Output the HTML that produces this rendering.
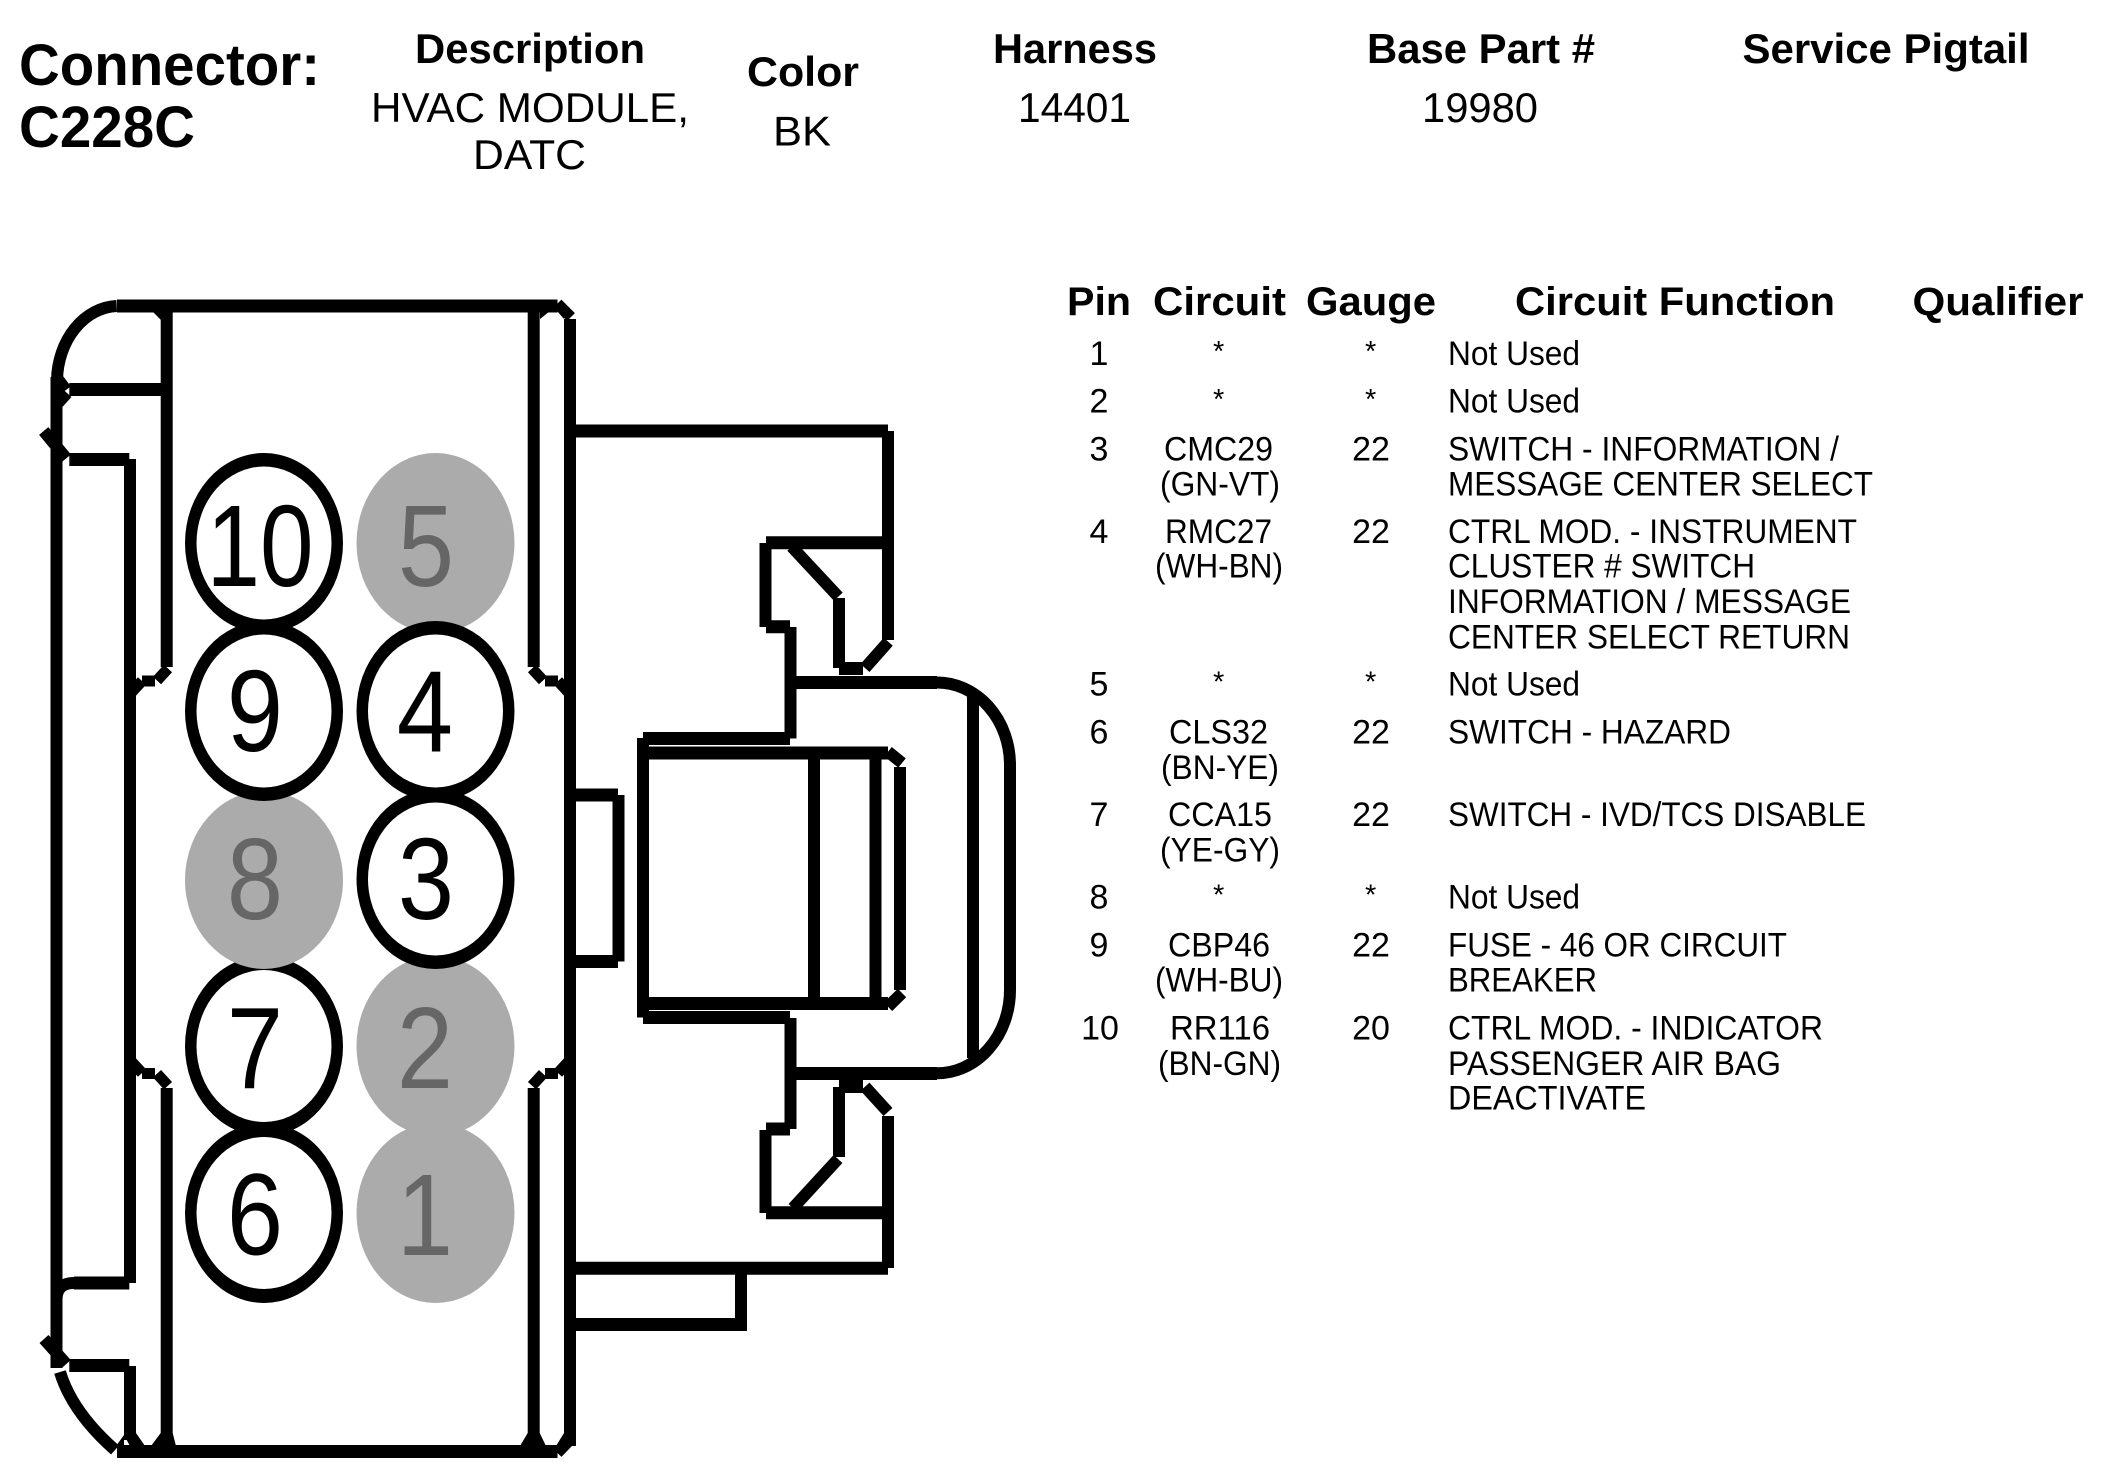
<!DOCTYPE html>
<html><head><meta charset="utf-8"><title>Connector C228C</title>
<style>
html,body{margin:0;padding:0;background:#fff}
svg{display:block}
text{font-family:"Liberation Sans",Arial,sans-serif;fill:#000}
.b{font-weight:bold}
.h{font-size:41.5px}
.t{font-size:39.5px}
.c{font-size:58px}
.r{font-size:34px}
.m{text-anchor:middle}
.s{font-size:29px;text-anchor:middle}
.d{font-size:116px;text-anchor:middle}
.g{fill:#666}
</style></head><body>
<svg width="2104" height="1484" viewBox="0 0 2104 1484" xmlns="http://www.w3.org/2000/svg">
<rect width="2104" height="1484" fill="#fff"/>

<g fill="none" stroke="#000">
<path stroke-width="13" d="M117 306H557.5M69.3 389.5H161M69.3 459.5H129.3M570 431H888M766 542.7H888M766 626.7H790M795 682.5H937M643 738.5H790M643 753H888M643 1003.5H888M643 1017.5H790M795 1073.5H937M839 1086.5H863M839 668.5H863M766 1129H790M766 1212.7H888M570 1268.3H888M570 1324.5H747M570 795H618M570 961.5H618M69.3 1365.5H129.3M117 1451.5H557.5M74 1283H129.3"/>
<path stroke-width="12" d="M56.5 377V1368M130 459V1283M130 1366V1440M166.7 306V667M166.7 1088V1440M533.7 306V667M533.7 1088V1440M570 319V1440M888 431V640M888 1116V1268M765.5 543V627M765.5 1130V1213M790.5 627V738.5M790.5 1018V1129M839 598V668M839 1087V1157M643 738V1017.5M814 753V1003M875.5 753V1003M900 767V990M973 690V1058M1010 765V990M618.5 795V961.5M741 1268V1331"/>
<path stroke-width="12" d="M116.7 306A62 76 0 0 0 57 380M56.5 1300Q56.5 1283 74 1283M57 378L66 390M67 393L58 403M43.7 431L66.3 458.3M44 1339L66.3 1364M60 1372Q72 1412 115 1450"/>
<path stroke-width="11" d="M557.5 303.5L571 317M557.5 1453L571 1439"/>
<path stroke-width="11" d="M168 668.5L157 680.5M155 681H142M142 681L130 694M532 668.5L543 680.5M545 681H558M558 681L570 694M168 1085.7L157 1073.7M155 1073.5H142M142 1073L130 1060M532 1085.7L543 1073.7M545 1073.5H558M558 1073L570 1060"/>
<path stroke-width="12" d="M791.7 546.7L838.3 596.7M865 668L888.3 641.7M793 1208L838 1159M865 1086.7L888 1112M888 751.7L902 763M902 993L888 1006.7"/>
<path stroke-width="12" d="M936.7 682.5A73 82.5 0 0 1 1010 765M1010 990A73 83.3 0 0 1 936.7 1073.3"/>
</g>
<path fill="#000" d="M136 1433L145 1446H124V1433ZM160.7 1433L151 1446H176L172.7 1433ZM124 1435L116 1446H130ZM527.7 1433L520 1446H546L539.7 1433ZM564 1433L556 1446H576V1433ZM153 312L161 320V312ZM540 319L550 311H540ZM557 311L564 319V311Z"/>

<g>
<ellipse cx="264" cy="1213" rx="79" ry="90" fill="#000"/><ellipse cx="264" cy="1213" rx="67.5" ry="76" fill="#fff"/>
<ellipse cx="264" cy="1046" rx="79" ry="90" fill="#000"/><ellipse cx="264" cy="1046" rx="67.5" ry="76" fill="#fff"/>
<ellipse cx="264" cy="880" rx="79" ry="89" fill="#ababab"/>
<ellipse cx="264" cy="543" rx="79" ry="90" fill="#000"/><ellipse cx="264" cy="543" rx="67.5" ry="76.5" fill="#fff"/>
<ellipse cx="264" cy="711" rx="79" ry="90" fill="#000"/><ellipse cx="264" cy="711" rx="67.5" ry="76.5" fill="#fff"/>
<ellipse cx="435.5" cy="1213" rx="79" ry="90" fill="#ababab"/>
<ellipse cx="435.5" cy="1046" rx="79" ry="90" fill="#ababab"/>
<ellipse cx="435.5" cy="543" rx="79" ry="90" fill="#ababab"/>
<ellipse cx="435.5" cy="879" rx="79" ry="90" fill="#000"/><ellipse cx="435.5" cy="879" rx="67.5" ry="76.5" fill="#fff"/>
<ellipse cx="435.5" cy="711" rx="79" ry="90" fill="#000"/><ellipse cx="435.5" cy="711" rx="67.5" ry="76.5" fill="#fff"/>
</g>

<text class="d" transform="translate(260 586) scale(.83 1)">10</text>
<text class="d" transform="translate(255 751) scale(.87 1)">9</text>
<text class="d g" transform="translate(255 919) scale(.87 1)">8</text>
<text class="d" transform="translate(255 1088) scale(.87 1)">7</text>
<text class="d" transform="translate(255 1254.5) scale(.87 1)">6</text>
<text class="d g" transform="translate(426 586) scale(.87 1)">5</text>
<text class="d" transform="translate(425 751.5) scale(.87 1)">4</text>
<text class="d" transform="translate(426 919) scale(.87 1)">3</text>
<text class="d g" transform="translate(425 1088) scale(.87 1)">2</text>
<text class="d g" transform="translate(425 1255) scale(.87 1)">1</text>

<text class="b c" x="19" y="85" textLength="301" lengthAdjust="spacingAndGlyphs">Connector:</text>
<text class="b c" x="19" y="147" textLength="176" lengthAdjust="spacingAndGlyphs">C228C</text>
<text class="b h" x="415" y="63" textLength="230" lengthAdjust="spacingAndGlyphs">Description</text>
<text class="h" x="371" y="122" textLength="318" lengthAdjust="spacingAndGlyphs">HVAC MODULE,</text>
<text class="h" x="473" y="169" textLength="113" lengthAdjust="spacingAndGlyphs">DATC</text>
<text class="b h" x="747" y="86" textLength="112" lengthAdjust="spacingAndGlyphs">Color</text>
<text class="h" x="773" y="145.7" textLength="58" lengthAdjust="spacingAndGlyphs">BK</text>
<text class="b h" x="993" y="63" textLength="164" lengthAdjust="spacingAndGlyphs">Harness</text>
<text class="h" x="1018" y="122" textLength="113" lengthAdjust="spacingAndGlyphs">14401</text>
<text class="b h" x="1367" y="63" textLength="228" lengthAdjust="spacingAndGlyphs">Base Part #</text>
<text class="h" x="1422" y="122" textLength="116" lengthAdjust="spacingAndGlyphs">19980</text>
<text class="b h" x="1742.5" y="63" textLength="287" lengthAdjust="spacingAndGlyphs">Service Pigtail</text>

<text class="b t" x="1067" y="315" textLength="64" lengthAdjust="spacingAndGlyphs">Pin</text>
<text class="b t" x="1153" y="315" textLength="133" lengthAdjust="spacingAndGlyphs">Circuit</text>
<text class="b t" x="1306" y="315" textLength="130" lengthAdjust="spacingAndGlyphs">Gauge</text>
<text class="b t" x="1515" y="315" textLength="320" lengthAdjust="spacingAndGlyphs">Circuit Function</text>
<text class="b t" x="1912.5" y="315" textLength="171" lengthAdjust="spacingAndGlyphs">Qualifier</text>

<g>
<text class="r m" x="1099" y="365">1</text><text class="s" x="1218.7" y="361">*</text><text class="s" x="1370.6" y="361">*</text>
<text class="r" x="1448" y="365" textLength="132" lengthAdjust="spacingAndGlyphs">Not Used</text>

<text class="r m" x="1099" y="412.7">2</text><text class="s" x="1218.7" y="409">*</text><text class="s" x="1370.6" y="409">*</text>
<text class="r" x="1448" y="412.7" textLength="132" lengthAdjust="spacingAndGlyphs">Not Used</text>

<text class="r m" x="1099" y="460.7">3</text>
<text class="r" x="1164" y="460.7" textLength="109" lengthAdjust="spacingAndGlyphs">CMC29</text>
<text class="r" x="1160" y="495.7" textLength="120" lengthAdjust="spacingAndGlyphs">(GN-VT)</text>
<text class="r m" x="1371" y="460.7">22</text>
<text class="r" x="1448" y="460.7" textLength="391" lengthAdjust="spacingAndGlyphs">SWITCH - INFORMATION /</text>
<text class="r" x="1448" y="495.7" textLength="425" lengthAdjust="spacingAndGlyphs">MESSAGE CENTER SELECT</text>

<text class="r m" x="1099" y="543">4</text>
<text class="r" x="1165" y="543" textLength="107" lengthAdjust="spacingAndGlyphs">RMC27</text>
<text class="r" x="1155" y="577.7" textLength="128" lengthAdjust="spacingAndGlyphs">(WH-BN)</text>
<text class="r m" x="1371" y="543">22</text>
<text class="r" x="1448" y="543" textLength="409" lengthAdjust="spacingAndGlyphs">CTRL MOD. - INSTRUMENT</text>
<text class="r" x="1448" y="577.7" textLength="307" lengthAdjust="spacingAndGlyphs">CLUSTER # SWITCH</text>
<text class="r" x="1448" y="613" textLength="403" lengthAdjust="spacingAndGlyphs">INFORMATION / MESSAGE</text>
<text class="r" x="1448" y="648.3" textLength="402" lengthAdjust="spacingAndGlyphs">CENTER SELECT RETURN</text>

<text class="r m" x="1099" y="695.5">5</text><text class="s" x="1218.7" y="691.5">*</text><text class="s" x="1370.6" y="691.5">*</text>
<text class="r" x="1448" y="695.5" textLength="132" lengthAdjust="spacingAndGlyphs">Not Used</text>

<text class="r m" x="1099" y="743.3">6</text>
<text class="r" x="1169" y="743.3" textLength="99" lengthAdjust="spacingAndGlyphs">CLS32</text>
<text class="r" x="1161" y="779" textLength="118" lengthAdjust="spacingAndGlyphs">(BN-YE)</text>
<text class="r m" x="1371" y="743.3">22</text>
<text class="r" x="1448" y="743.3" textLength="283" lengthAdjust="spacingAndGlyphs">SWITCH - HAZARD</text>

<text class="r m" x="1099" y="826">7</text>
<text class="r" x="1168" y="826" textLength="104" lengthAdjust="spacingAndGlyphs">CCA15</text>
<text class="r" x="1160" y="861.7" textLength="120" lengthAdjust="spacingAndGlyphs">(YE-GY)</text>
<text class="r m" x="1371" y="826">22</text>
<text class="r" x="1448" y="826" textLength="418" lengthAdjust="spacingAndGlyphs">SWITCH - IVD/TCS DISABLE</text>

<text class="r m" x="1099" y="908.3">8</text><text class="s" x="1218.7" y="904.5">*</text><text class="s" x="1370.6" y="904.5">*</text>
<text class="r" x="1448" y="908.3" textLength="132" lengthAdjust="spacingAndGlyphs">Not Used</text>

<text class="r m" x="1099" y="956.7">9</text>
<text class="r" x="1168" y="956.7" textLength="102" lengthAdjust="spacingAndGlyphs">CBP46</text>
<text class="r" x="1155" y="991.7" textLength="128" lengthAdjust="spacingAndGlyphs">(WH-BU)</text>
<text class="r m" x="1371" y="956.7">22</text>
<text class="r" x="1448" y="956.7" textLength="339" lengthAdjust="spacingAndGlyphs">FUSE - 46 OR CIRCUIT</text>
<text class="r" x="1448" y="991.7" textLength="149" lengthAdjust="spacingAndGlyphs">BREAKER</text>

<text class="r m" x="1100" y="1039.3">10</text>
<text class="r" x="1170" y="1039.3" textLength="100" lengthAdjust="spacingAndGlyphs">RR116</text>
<text class="r" x="1158" y="1075" textLength="123" lengthAdjust="spacingAndGlyphs">(BN-GN)</text>
<text class="r m" x="1371" y="1039.3">20</text>
<text class="r" x="1448" y="1039.3" textLength="375" lengthAdjust="spacingAndGlyphs">CTRL MOD. - INDICATOR</text>
<text class="r" x="1448" y="1075" textLength="333" lengthAdjust="spacingAndGlyphs">PASSENGER AIR BAG</text>
<text class="r" x="1448" y="1109.3" textLength="198" lengthAdjust="spacingAndGlyphs">DEACTIVATE</text>
</g>
</svg>
</body></html>
